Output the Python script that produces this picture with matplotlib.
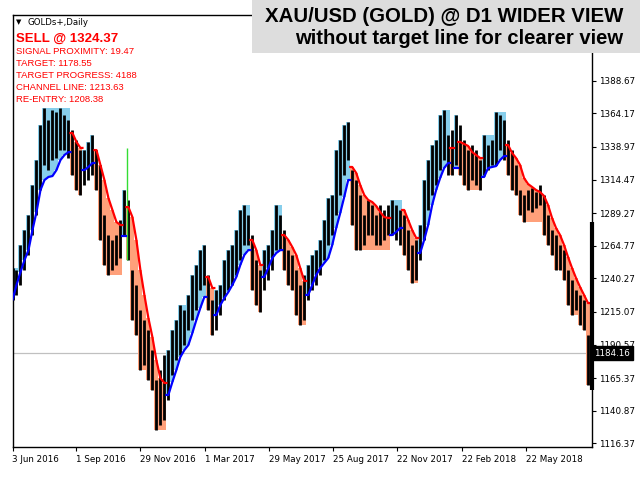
import numpy as np
import matplotlib.pyplot as plt
from matplotlib.patches import Rectangle
from matplotlib.transforms import blended_transform_factory

# one sample every 4 daily bars, starting 3 Jun 2016
bar_step = 4

high = [1248.0, 1246.5, 1265.3, 1276.6, 1287.8, 1310.4, 1329.1, 1355.4, 1368.2, 1359.2,
        1366.7, 1365.2, 1368.2, 1362.9, 1359.2, 1351.7, 1344.2, 1336.6, 1336.6, 1342.7,
        1347.9, 1336.6, 1325.4, 1287.8, 1272.8, 1269.1, 1272.8, 1284.1, 1306.6, 1299.1,
        1246.5, 1235.3, 1216.5, 1209.0, 1201.5, 1186.4, 1163.9, 1171.4, 1182.7, 1186.4,
        1201.5, 1209.0, 1220.2, 1216.5, 1227.8, 1242.8, 1250.3, 1261.5, 1265.3, 1242.8,
        1224.0, 1231.5, 1235.3, 1254.0, 1261.5, 1265.3, 1276.6, 1291.6, 1295.3, 1287.8,
        1272.8, 1254.0, 1246.5, 1261.5, 1265.3, 1276.6, 1295.3, 1287.8, 1276.6, 1261.5,
        1257.8, 1246.5, 1235.3, 1242.8, 1250.3, 1257.8, 1261.5, 1269.1, 1284.1, 1300.6,
        1302.9, 1336.6, 1344.2, 1355.4, 1357.7, 1321.6, 1314.1, 1302.9, 1287.8, 1299.1,
        1295.3, 1287.8, 1295.3, 1291.6, 1295.3, 1299.1, 1295.3, 1291.6, 1287.8, 1276.6,
        1265.3, 1269.1, 1280.3, 1314.1, 1329.1, 1340.4, 1344.2, 1362.9, 1366.7, 1347.9,
        1351.7, 1362.9, 1355.4, 1344.2, 1336.6, 1340.4, 1336.6, 1329.1, 1347.9, 1340.4,
        1344.2, 1365.2, 1362.9, 1359.2, 1344.2, 1336.6, 1325.4, 1306.6, 1302.9, 1306.6,
        1308.1, 1305.1, 1310.4, 1302.9, 1287.8, 1276.6, 1272.8, 1265.3, 1261.5, 1246.5,
        1239.0, 1231.5, 1227.8, 1224.0, 1197.7]

low = [1224.0, 1227.8, 1235.3, 1246.5, 1257.8, 1272.8, 1287.8, 1306.6, 1325.4, 1321.6,
       1329.1, 1330.6, 1336.6, 1336.6, 1330.6, 1317.9, 1306.6, 1302.9, 1310.4, 1314.1,
       1317.9, 1306.6, 1269.1, 1250.3, 1242.8, 1246.5, 1250.3, 1255.5, 1272.8, 1254.0,
       1209.0, 1197.7, 1171.4, 1175.2, 1163.9, 1156.4, 1126.4, 1130.1, 1133.9, 1148.9,
       1167.7, 1178.9, 1182.7, 1190.2, 1201.5, 1209.0, 1216.5, 1231.5, 1235.3, 1216.5,
       1197.7, 1201.5, 1212.7, 1224.0, 1231.5, 1235.3, 1242.8, 1254.0, 1265.3, 1265.3,
       1231.5, 1220.2, 1215.0, 1231.5, 1239.0, 1246.5, 1261.5, 1261.5, 1246.5, 1235.3,
       1231.5, 1212.7, 1205.2, 1209.0, 1224.0, 1231.5, 1235.3, 1242.8, 1254.0, 1265.3,
       1272.8, 1287.8, 1302.9, 1317.9, 1329.1, 1280.3, 1261.5, 1261.5, 1265.3, 1272.8,
       1272.8, 1265.3, 1265.3, 1269.1, 1272.8, 1272.8, 1269.1, 1265.3, 1257.8, 1246.5,
       1236.8, 1239.0, 1254.0, 1269.1, 1291.6, 1302.9, 1310.4, 1321.6, 1329.1, 1317.9,
       1317.9, 1325.4, 1317.9, 1310.4, 1306.6, 1314.1, 1310.4, 1306.6, 1317.9, 1321.6,
       1325.4, 1325.4, 1336.6, 1329.1, 1317.9, 1306.6, 1302.9, 1287.8, 1282.6, 1291.6,
       1290.1, 1293.1, 1295.3, 1272.8, 1265.3, 1257.8, 1246.5, 1246.5, 1239.0, 1220.2,
       1212.7, 1216.5, 1205.2, 1201.5, 1160.2]

channel = [1224.0, 1235.3, 1245.0, 1254.0, 1261.5, 1276.6, 1290.1, 1306.6, 1314.1, 1316.4,
           1317.1, 1321.6, 1329.1, 1332.9, 1335.1, 1349.4, 1342.7, 1338.2, 1321.6, 1323.9,
           1326.9, 1336.6, 1325.4, 1314.1, 1300.6, 1291.6, 1282.6, 1280.3, 1272.1, 1293.8,
           1286.3, 1269.1, 1246.5, 1227.8, 1210.5, 1196.2, 1178.9, 1165.4, 1161.7, 1152.7,
           1162.4, 1171.4, 1181.2, 1186.4, 1190.2, 1199.2, 1209.0, 1218.0, 1226.3, 1241.3,
           1233.0, 1212.7, 1220.2, 1225.5, 1230.0, 1235.3, 1241.3, 1250.3, 1257.8, 1261.5,
           1269.1, 1261.5, 1250.3, 1241.3, 1248.0, 1255.5, 1259.3, 1261.5, 1272.8, 1269.1,
           1263.8, 1257.8, 1248.0, 1238.3, 1227.8, 1235.3, 1242.8, 1248.0, 1251.8, 1255.5,
           1265.3, 1278.1, 1289.3, 1301.4, 1314.1, 1323.9, 1319.4, 1310.4, 1302.9, 1299.1,
           1297.6, 1294.6, 1290.1, 1286.3, 1285.6, 1272.8, 1275.1, 1278.1, 1291.6, 1284.1,
           1276.6, 1270.6, 1259.3, 1269.1, 1280.3, 1295.3, 1306.6, 1315.6, 1323.1, 1326.9,
           1338.2, 1323.1, 1342.7, 1341.2, 1339.7, 1335.1, 1332.9, 1330.6, 1316.4, 1323.1,
           1323.9, 1324.6, 1329.1, 1332.1, 1340.4, 1334.4, 1330.6, 1325.4, 1315.6, 1311.1,
           1308.9, 1306.6, 1305.1, 1302.1, 1295.3, 1285.6, 1278.1, 1272.8, 1265.3, 1256.3,
           1248.0, 1240.5, 1233.8, 1227.8, 1221.7]

# (direction, number of samples): 1 = up channel (blue), -1 = down channel (red)
trend_runs = [(1, 15), (-1, 3), (1, 3), (-1, 7), (1, 1), (-1, 10), (1, 10), (-1, 2),
              (1, 9), (-1, 3), (1, 5), (-1, 6), (1, 11), (-1, 10), (1, 3), (-1, 4),
              (1, 8), (-1, 1), (1, 1), (-1, 6), (1, 6), (-1, 21)]

spike_bar, spike_low, spike_high = 115, 1254.0, 1338.2
range_low, range_high = 1156.4, 1282.6
last_price = 1184.16

price_ticks = [1116.37, 1140.87, 1165.37, 1190.57, 1215.07, 1240.27,
               1264.77, 1289.27, 1314.47, 1338.97, 1364.17, 1388.67]
date_ticks = [0, 64, 128, 193, 257, 321, 385, 450, 514]
date_labels = ["3 Jun 2016", "1 Sep 2016", "29 Nov 2016", "1 Mar 2017", "29 May 2017",
               "25 Aug 2017", "22 Nov 2017", "22 Feb 2018", "22 May 2018"]

signal_text = "SELL @ 1324.37"
info_lines = ["SIGNAL PROXIMITY: 19.47", "TARGET: 1178.55", "TARGET PROGRESS: 4188",
              "CHANNEL LINE: 1213.63", "RE-ENTRY: 1208.38"]

high = np.array(high)
low = np.array(low)
channel = np.array(channel)
bars = np.arange(len(high)) * bar_step

fig = plt.figure(figsize=(6.4, 4.8), dpi=100)
ax = fig.add_axes([12.5 / 640, 33.5 / 480, 579.5 / 640, 432 / 480])

start = 0
for direction, n in trend_runs:
    sl = slice(start, start + n)
    xs = bars[sl]
    ln = channel[sl]
    if direction > 0:
        ext = np.maximum.accumulate(high[sl])
        fcol, lcol = "#87ceeb", "blue"
    else:
        ext = np.minimum.accumulate(low[sl])
        fcol, lcol = "#ffa07a", "red"
    edges = np.append(xs - bar_step / 2, xs[-1] + bar_step / 2)
    ax.fill_between(edges, np.append(ln, ln[-1]), np.append(ext, ext[-1]),
                    step="post", color=fcol, lw=0, zorder=1)
    ax.plot(np.r_[xs[0] - bar_step / 2, xs, xs[-1] + bar_step / 2],
            np.r_[ln[0], ln, ln[-1]], color=lcol, lw=1.6, zorder=3)
    start += n

ax.vlines(bars, low, high, color="black", lw=2.0, zorder=2)
ax.vlines(spike_bar, spike_low, spike_high, color="#33dd33", lw=1, zorder=2.5)

ax.axhline(last_price, color="#c0c0c0", lw=0.9, zorder=0.5)
ax.vlines(580, range_low, range_high, color="black", lw=3, clip_on=False, zorder=4)

ax.set_xlim(0.5, 580)
ax.set_ylim(1114.0, 1438.4)

ax.yaxis.tick_right()
ax.set_yticks(price_ticks, labels=[f"{p:.2f}" for p in price_ticks])
ax.set_xticks(date_ticks, labels=date_labels)
for lbl in ax.get_xticklabels():
    lbl.set_ha("left")
ax.tick_params(axis="both", direction="out", length=3, width=0.8, labelsize=6.3, pad=2)
ax.tick_params(axis="x", pad=3)
for s in ax.spines.values():
    s.set_linewidth(1)

tr = blended_transform_factory(ax.transAxes, ax.transData)
ax.text(1.004, last_price, "1184.16", transform=tr, ha="left", va="center",
        color="white", fontsize=6.3, zorder=6,
        bbox=dict(facecolor="black", edgecolor="black", boxstyle="square,pad=0.3"))

# header box
fig.patches.append(Rectangle((252 / 640, 1 - 53 / 480), 1, 53 / 480,
                             transform=fig.transFigure, facecolor="#dddddd",
                             edgecolor="none", zorder=5))
fig.text(623 / 640, 1 - 17 / 480, "XAU/USD (GOLD) @ D1 WIDER VIEW", ha="right",
         va="center", fontsize=14.7, fontweight="bold", family="Liberation Sans", zorder=6)
fig.text(623 / 640, 1 - 38 / 480, "without target line for clearer view", ha="right",
         va="center", fontsize=14.6, fontweight="bold", family="Liberation Sans", zorder=6)

fig.text(16 / 640, 1 - 22.5 / 480, "\u25bc", fontsize=5, va="center", zorder=6)
fig.text(28 / 640, 1 - 22.5 / 480, "GOLDs+,Daily", fontsize=6.2, va="center", zorder=6)
fig.text(16 / 640, 1 - 38.3 / 480, signal_text, color="red", fontsize=9.5,
         fontweight="bold", family="Liberation Sans", va="center", zorder=6)
for i, line in enumerate(info_lines):
    fig.text(16 / 640, 1 - (51.7 + 11.9 * i) / 480, line, color="red", fontsize=6.8,
             family="Liberation Sans", va="center", zorder=6)

fig.savefig("out.png", dpi=100)
